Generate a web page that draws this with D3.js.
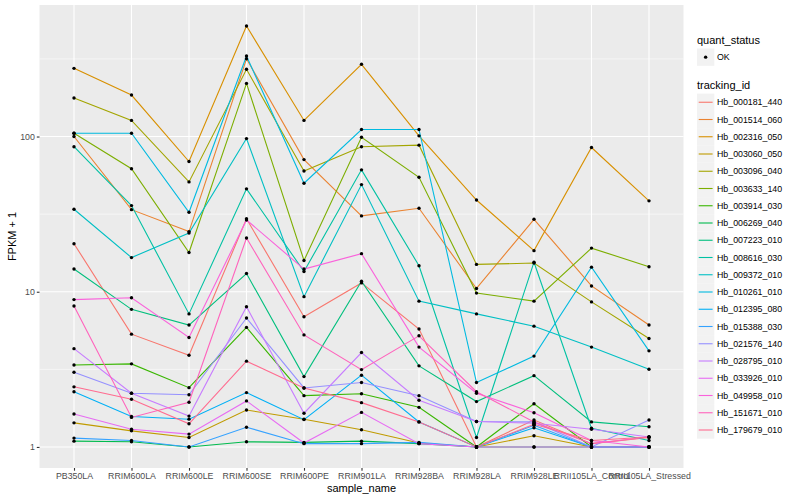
<!DOCTYPE html>
<html>
<head>
<script src="https://cdnjs.cloudflare.com/ajax/libs/d3/7.8.5/d3.min.js"></script>
<style>
  body { margin: 0; background: #ffffff; }
  text { font-family: "Liberation Sans", Arial, sans-serif; }
</style>
</head>
<body>
<div id="chart"></div>
<script>
// samples on the x axis
const samples = ["PB350LA", "RRIM600LA", "RRIM600LE", "RRIM600SE", "RRIM600PE", "RRIM901LA",
  "RRIM928BA", "RRIM928LA", "RRIM928LE", "RRII105LA_Control", "RRII105LA_Stressed"];

// one line per gene
const trackingIds = ["Hb_000181_440", "Hb_001514_060", "Hb_002316_050", "Hb_003060_050", "Hb_003096_040",
  "Hb_003633_140", "Hb_003914_030", "Hb_006269_040", "Hb_007223_010", "Hb_008616_030",
  "Hb_009372_010", "Hb_010261_010", "Hb_012395_080", "Hb_015388_030", "Hb_021576_140",
  "Hb_028795_010", "Hb_033926_010", "Hb_049958_010", "Hb_151671_010", "Hb_179679_010"];

const lineColors = ["#F8766D", "#EA8331", "#D89000", "#C09B00", "#A3A500", "#7CAE00", "#39B600", "#00BB4E",
  "#00BF7D", "#00C1A3", "#00BFC4", "#00BAE0", "#00B0F6", "#35A2FF", "#9590FF", "#C77CFF",
  "#E76BF3", "#FA62DB", "#FF62BC", "#FF6C90"];

// FPKM + 1, rows follow trackingIds, columns follow samples
const fpkmPlus1 = [
  [20.4, 5.33, 3.9, 29.5, 6.9, 11.4, 5.75, 1.0, 1.49, 1.05, 1.15],
  [100, 33.8, 24.4, 317, 71, 30.8, 34.5, 10.5, 29.3, 10.9, 6.1],
  [275, 185, 69, 515, 127, 292, 101, 39, 18.4, 85, 38.5],
  [1.43, 1.27, 1.15, 1.73, 1.51, 1.29, 1.06, 1.0, 1.18, 1.0, 1.0],
  [177, 127, 51, 271, 60, 86, 88, 15, 15.3, 8.6, 5.0],
  [105, 62, 17.9, 220, 15.9, 99, 54.6, 9.8, 8.7, 19.1, 14.5],
  [3.37, 3.43, 2.41, 5.89, 2.14, 2.2, 1.8, 1.0, 1.9, 1.0, 1.0],
  [1.09, 1.08, 1.0, 1.08, 1.07, 1.09, 1.05, 1.0, 1.0, 1.0, 1.0],
  [14, 7.7, 6.1, 13.1, 2.84, 11.7, 3.33, 1.96, 2.88, 1.45, 1.35],
  [86, 35.9, 7.2, 46, 13.5, 61, 14.7, 1.15, 15.5, 1.32, 1.1],
  [34, 16.6, 23.9, 97, 9.3, 49, 8.7, 7.2, 6.0, 4.4, 3.17],
  [105, 105, 32.5, 330, 50, 111, 111, 2.6, 3.85, 14.4, 4.16],
  [2.27, 1.57, 1.51, 2.24, 1.5, 2.9, 1.45, 1.0, 1.33, 1.0, 1.0],
  [1.14, 1.1, 1.0, 1.34, 1.05, 1.05, 1.07, 1.0, 1.38, 1.0, 1.0],
  [3.03, 2.22, 2.17, 6.77, 2.4, 2.6, 2.14, 1.46, 1.45, 1.0, 1.49],
  [4.3, 2.22, 1.58, 8.0, 1.65, 4.06, 2.0, 1.46, 1.42, 1.3, 1.16],
  [1.63, 1.3, 1.21, 1.98, 1.06, 1.67, 1.05, 1.0, 1.0, 1.0, 1.0],
  [8.9, 9.15, 5.07, 29, 14, 17.6, 4.4, 2.22, 1.66, 1.1, 1.0],
  [8.1, 1.55, 1.94, 22.2, 5.27, 3.15, 5.2, 2.27, 1.45, 1.05, 1.16],
  [2.44, 2.03, 1.41, 3.57, 2.4, 1.93, 1.45, 1.0, 1.4, 1.1, 1.16]
];

const yTicks = [1, 10, 100];
const statusLevels = ["OK"];

const width = 800, height = 500;
const panel = { left: 39.5, right: 683.5, top: 5, bottom: 468 };

const svg = d3.select("#chart").append("svg")
  .attr("width", width)
  .attr("height", height);

// scales (log axis with 5% expansion like ggplot)
const x = d3.scalePoint().domain(samples).range([panel.left, panel.right]).padding(0.6);
const allVals = fpkmPlus1.flat();
const lo = Math.log10(d3.min(allVals)), hi = Math.log10(d3.max(allVals));
const pad = (hi - lo) * 0.05;
const y = d3.scaleLog().domain([10 ** (lo - pad), 10 ** (hi + pad)]).range([panel.bottom, panel.top]);

// panel background
svg.append("rect")
  .attr("x", panel.left).attr("y", panel.top)
  .attr("width", panel.right - panel.left).attr("height", panel.bottom - panel.top)
  .attr("fill", "#EBEBEB");

// minor grid halfway between decades
const minor = yTicks.map(t => t * Math.sqrt(10)).concat([yTicks[0] / Math.sqrt(10)])
  .filter(v => y(v) >= panel.top && y(v) <= panel.bottom);
svg.append("g").selectAll("line").data(minor).join("line")
  .attr("x1", panel.left).attr("x2", panel.right)
  .attr("y1", d => y(d)).attr("y2", d => y(d))
  .attr("stroke", "#ffffff").attr("stroke-width", 0.55);

svg.append("g").selectAll("line").data(yTicks).join("line")
  .attr("x1", panel.left).attr("x2", panel.right)
  .attr("y1", d => y(d)).attr("y2", d => y(d))
  .attr("stroke", "#ffffff").attr("stroke-width", 1.1);

svg.append("g").selectAll("line").data(samples).join("line")
  .attr("x1", d => x(d)).attr("x2", d => x(d))
  .attr("y1", panel.top).attr("y2", panel.bottom)
  .attr("stroke", "#ffffff").attr("stroke-width", 1.1);

// lines
const line = d3.line()
  .x((d, i) => x(samples[i]))
  .y(d => y(d));

svg.append("g").selectAll("path").data(fpkmPlus1).join("path")
  .attr("d", d => line(d))
  .attr("fill", "none")
  .attr("stroke", (d, i) => lineColors[i])
  .attr("stroke-width", 1.1);

// points
const pts = [];
fpkmPlus1.forEach(row => row.forEach((v, j) => pts.push({ s: samples[j], v })));
svg.append("g").selectAll("circle").data(pts).join("circle")
  .attr("cx", d => x(d.s))
  .attr("cy", d => y(d.v))
  .attr("r", 1.7)
  .attr("fill", "#000000");

// axes
const yAxis = svg.append("g")
  .attr("transform", `translate(${panel.left},0)`)
  .call(d3.axisLeft(y).tickValues(yTicks).tickFormat(d3.format("d")).tickSize(2.7).tickPadding(2));
const xAxis = svg.append("g")
  .attr("transform", `translate(0,${panel.bottom})`)
  .call(d3.axisBottom(x).tickSize(2.7).tickPadding(2));

[yAxis, xAxis].forEach(ax => {
  ax.select(".domain").remove();
  ax.selectAll(".tick line").attr("stroke", "#333333").attr("stroke-width", 1.1);
  ax.selectAll(".tick text").attr("fill", "#4D4D4D").style("font-size", "8.8px");
});

// axis titles
svg.append("text")
  .attr("x", (panel.left + panel.right) / 2).attr("y", 492)
  .attr("text-anchor", "middle")
  .style("font-size", "11px")
  .text("sample_name");

svg.append("text")
  .attr("transform", `translate(16,${(panel.top + panel.bottom) / 2}) rotate(-90)`)
  .attr("text-anchor", "middle")
  .style("font-size", "11px")
  .text("FPKM + 1");

// legend: quant_status
const lg = svg.append("g").attr("transform", "translate(697,0)");
lg.append("text").attr("x", 0).attr("y", 44).style("font-size", "11px").text("quant_status");
const sk = lg.selectAll("g.status").data(statusLevels).join("g")
  .attr("class", "status")
  .attr("transform", (d, i) => `translate(0,${48.5 + i * 17.3})`);
sk.append("rect").attr("width", 17.3).attr("height", 17.3).attr("fill", "#F2F2F2");
sk.append("circle").attr("cx", 8.65).attr("cy", 8.65).attr("r", 1.7).attr("fill", "#000000");
sk.append("text").attr("x", 20).attr("y", 8.65).attr("dy", "0.35em")
  .style("font-size", "8.8px").text(d => d);

// legend: tracking_id
lg.append("text").attr("x", 0).attr("y", 89).style("font-size", "11px").text("tracking_id");
const tk = lg.selectAll("g.tid").data(trackingIds).join("g")
  .attr("class", "tid")
  .attr("transform", (d, i) => `translate(0,${93.6 + i * 17.25})`);
tk.append("rect").attr("width", 17.3).attr("height", 17.3).attr("fill", "#F2F2F2");
tk.append("line").attr("x1", 1.7).attr("x2", 15.6).attr("y1", 8.65).attr("y2", 8.65)
  .attr("stroke", (d, i) => lineColors[i]).attr("stroke-width", 1.1);
tk.append("text").attr("x", 20).attr("y", 8.65).attr("dy", "0.35em")
  .style("font-size", "8.8px").text(d => d);
</script>
</body>
</html>
